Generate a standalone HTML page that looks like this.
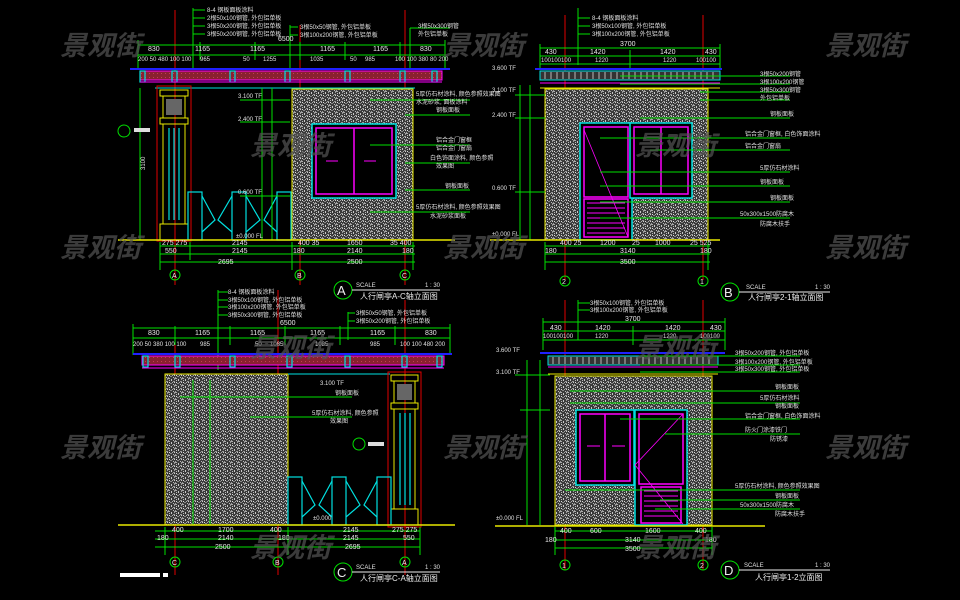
<!DOCTYPE html>
<html><head><meta charset="utf-8"><style>
html,body{margin:0;padding:0;background:#000;}
svg{display:block}
text{font-family:"Liberation Sans","Noto Sans CJK SC",sans-serif;}
.g{stroke:#00e000;stroke-width:1;fill:none}
.t{fill:#e8e8e8;font-size:7px}
.gt{fill:#e0e0e0;font-size:6px}
.wm{fill:#555;font-size:27px;font-weight:bold;font-style:italic;font-family:"Noto Sans CJK SC",sans-serif;opacity:.7}
.red{stroke:#e00000;stroke-width:1}
.cy{stroke:#00e0e0;fill:none;stroke-width:1.2}
.mg{stroke:#ff00ff;fill:none;stroke-width:1.5}
.yl{stroke:#e8e800;fill:none;stroke-width:1}
.circ{stroke:#00e000;fill:none;stroke-width:1}
</style></head><body>
<svg width="960" height="600" viewBox="0 0 960 600" xmlns="http://www.w3.org/2000/svg">
<defs>
<pattern id="st" width="7" height="7" patternUnits="userSpaceOnUse">
<rect width="7" height="7" fill="#3a3a3a"/>
<rect x="0" y="0" width="2" height="1" fill="#aaa"/>
<rect x="3" y="1" width="1" height="2" fill="#c8c8c8"/>
<rect x="5" y="3" width="2" height="1" fill="#999"/>
<rect x="1" y="4" width="1" height="1" fill="#ddd"/>
<rect x="2" y="5" width="2" height="1" fill="#888"/>
<rect x="5" y="6" width="1" height="1" fill="#bbb"/>
<rect x="4" y="4" width="1" height="1" fill="#aaa"/>
<rect x="6" y="0" width="1" height="2" fill="#999"/>
<rect x="1" y="2" width="1" height="1" fill="#bbb"/>
<rect x="0" y="6" width="1" height="1" fill="#999"/>
<rect x="6" y="4" width="1" height="1" fill="#ccc"/>
</pattern>
<pattern id="rb" width="4" height="4" patternUnits="userSpaceOnUse">
<rect width="4" height="4" fill="#8a2030"/><rect x="1" y="1" width="1" height="1" fill="#c04050"/>
</pattern>
</defs>
<rect width="960" height="600" fill="#000"/>

<!-- ========== PANEL A ========== -->
<g>
<line class="red" x1="175" y1="10" x2="175" y2="285"/>
<line class="red" x1="300" y1="25" x2="300" y2="285"/>
<line class="red" x1="405" y1="10" x2="405" y2="285"/>
<g class="g"><line x1="193" y1="8" x2="193" y2="70"/><line x1="193" y1="10" x2="205" y2="10"/><line x1="193" y1="18" x2="205" y2="18"/><line x1="193" y1="26" x2="205" y2="26"/><line x1="193" y1="34" x2="205" y2="34"/>
<line x1="290" y1="25" x2="290" y2="70"/><line x1="290" y1="27" x2="298" y2="27"/><line x1="290" y1="35" x2="298" y2="35"/>
<line x1="410" y1="28" x2="410" y2="70"/><line x1="410" y1="28" x2="450" y2="28"/></g>
<text class="gt" x="207" y="12">8-4 钢板面板涂料</text>
<text class="gt" x="207" y="20">2根50x100钢管, 外包铝单板</text>
<text class="gt" x="207" y="28">3根50x200钢管, 外包铝单板</text>
<text class="gt" x="207" y="36">3根50x200钢管, 外包铝单板</text>
<text class="gt" x="300" y="29">3根50x50钢管, 外包铝单板</text>
<text class="gt" x="300" y="37">3根100x200钢管, 外包铝单板</text>
<text class="gt" x="418" y="28">3根50x300钢管</text>
<text class="gt" x="418" y="36">外包铝单板</text>
<g class="g"><line x1="138" y1="45" x2="445" y2="45"/><line x1="138" y1="55" x2="445" y2="55"/>
<line x1="138" y1="40" x2="138" y2="70"/><line x1="200" y1="42" x2="200" y2="60"/><line x1="255" y1="42" x2="255" y2="60"/><line x1="300" y1="42" x2="300" y2="60"/><line x1="345" y1="42" x2="345" y2="60"/><line x1="400" y1="42" x2="400" y2="60"/><line x1="445" y1="40" x2="445" y2="70"/></g>
<text class="t" x="148" y="51">830</text><text class="t" x="195" y="51">1165</text><text class="t" x="250" y="51">1165</text><text class="t" x="320" y="51">1165</text><text class="t" x="373" y="51">1165</text><text class="t" x="420" y="51">830</text>
<text class="t" x="278" y="41">6500</text>
<text class="gt" x="138" y="61">200 50 480 100 100</text><text class="gt" x="200" y="61">965</text><text class="gt" x="243" y="61">50</text><text class="gt" x="263" y="61">1255</text><text class="gt" x="310" y="61">1035</text><text class="gt" x="350" y="61">50</text><text class="gt" x="365" y="61">985</text><text class="gt" x="395" y="61">100 100 380 80 200</text>
<line x1="130" y1="69" x2="450" y2="69" stroke="#2020ff" stroke-width="2"/>
<rect x="140" y="71" width="302" height="9" fill="url(#rb)" stroke="#ff00ff" stroke-width="1"/>
<g class="cy"><rect x="140" y="71" width="5" height="11"/><rect x="172" y="71" width="5" height="11"/><rect x="230" y="71" width="5" height="11"/><rect x="285" y="71" width="5" height="11"/><rect x="345" y="71" width="5" height="11"/><rect x="400" y="71" width="5" height="11"/><rect x="432" y="71" width="5" height="11"/></g>
<line x1="140" y1="82" x2="442" y2="82" stroke="#ff00ff"/>
<line x1="155" y1="88" x2="415" y2="88" stroke="#00e0e0"/>
<rect x="157" y="86" width="34" height="155" fill="none" stroke="#e00000"/>
<g class="yl"><rect x="160" y="90" width="28" height="6"/><rect x="163" y="96" width="22" height="22"/><rect x="160" y="118" width="28" height="6"/><rect x="163" y="124" width="22" height="100"/><rect x="160" y="224" width="28" height="16"/></g>
<rect x="166" y="99" width="16" height="16" fill="#666"/>
<g stroke="#00e0e0" stroke-width="1.2"><line x1="169" y1="128" x2="169" y2="220"/><line x1="174" y1="128" x2="174" y2="220"/><line x1="179" y1="128" x2="179" y2="220"/></g>
<g class="cy" stroke-width="1"><rect x="188" y="192" width="14" height="48"/><rect x="232" y="192" width="14" height="48"/><rect x="277" y="192" width="14" height="48"/><path d="M202 196 L215 220 L202 232 M232 196 L218 220 L232 232 M246 196 L260 220 L246 232 M277 196 L264 220 L277 232"/></g>
<rect x="292" y="89" width="121" height="151" fill="url(#st)" stroke="#e8e800"/>
<rect x="312" y="124" width="84" height="74" fill="#000" stroke="#00e0e0" stroke-width="1.5"/>
<rect x="316" y="128" width="76" height="66" class="mg"/>
<line x1="354" y1="128" x2="354" y2="194" stroke="#ff00ff" stroke-width="1.5"/>
<line x1="326" y1="161" x2="338" y2="161" stroke="#ff00ff"/><line x1="364" y1="161" x2="376" y2="161" stroke="#ff00ff"/>
<g class="g"><line x1="370" y1="100" x2="470" y2="100"/><line x1="405" y1="115" x2="470" y2="115"/><line x1="370" y1="145" x2="470" y2="145"/><line x1="405" y1="163" x2="470" y2="163"/><line x1="405" y1="190" x2="470" y2="190"/><line x1="370" y1="212" x2="470" y2="212"/></g>
<text class="gt" x="416" y="96">5厚仿石材涂料, 颜色参照效果图</text><text class="gt" x="416" y="104">水泥砂浆, 面板涂料</text><text class="gt" x="436" y="112">钢板面板</text>
<text class="gt" x="436" y="142">铝合金门窗框</text><text class="gt" x="436" y="150">铝合金门窗扇</text>
<text class="gt" x="430" y="160">白色饰面涂料, 颜色参照</text><text class="gt" x="436" y="168">效果图</text>
<text class="gt" x="445" y="188">钢板面板</text>
<text class="gt" x="416" y="209">5厚仿石材涂料, 颜色参照效果图</text><text class="gt" x="430" y="218">水泥砂浆面板</text>
<g class="g"><line x1="262" y1="88" x2="262" y2="240"/><line x1="272" y1="88" x2="272" y2="240"/><line x1="140" y1="88" x2="140" y2="240"/><line x1="240" y1="100" x2="290" y2="100"/><line x1="240" y1="122" x2="290" y2="122"/><line x1="240" y1="196" x2="290" y2="196"/></g>
<text class="gt" x="238" y="98">3.100 TF</text><text class="gt" x="238" y="121">2.400 TF</text><text class="gt" x="238" y="194">0.600 TF</text><text class="gt" x="236" y="238">±0.000 FL</text>
<text class="gt" x="145" y="170" transform="rotate(-90 145 170)">3100</text>
<circle class="circ" cx="124" cy="131" r="6"/><rect x="134" y="128" width="16" height="4" fill="#ddd"/>
<line x1="118" y1="240" x2="455" y2="240" stroke="#e8e800" stroke-width="1.5"/>
<g class="g"><line x1="160" y1="246" x2="415" y2="246"/><line x1="160" y1="254" x2="415" y2="254"/><line x1="160" y1="262" x2="415" y2="262"/><line x1="160" y1="242" x2="160" y2="270"/><line x1="190" y1="242" x2="190" y2="260"/><line x1="292" y1="242" x2="292" y2="270"/><line x1="413" y1="242" x2="413" y2="270"/></g>
<text class="t" x="162" y="245">275 275</text><text class="t" x="232" y="245">2145</text><text class="t" x="298" y="245">400 35</text><text class="t" x="347" y="245">1650</text><text class="t" x="390" y="245">35 400</text>
<text class="t" x="165" y="253">550</text><text class="t" x="232" y="253">2145</text><text class="t" x="293" y="253">180</text><text class="t" x="347" y="253">2140</text><text class="t" x="402" y="253">180</text>
<text class="t" x="218" y="264">2695</text><text class="t" x="347" y="264">2500</text>
<circle class="circ" cx="175" cy="275" r="5"/><text class="t" x="172" y="278">A</text>
<circle class="circ" cx="300" cy="275" r="5"/><text class="t" x="297" y="278">B</text>
<circle class="circ" cx="405" cy="275" r="5"/><text class="t" x="402" y="278">C</text>
<circle class="circ" cx="343" cy="290" r="9"/><text x="337" y="295" fill="#eee" font-size="13">A</text>
<line x1="352" y1="290" x2="440" y2="290" stroke="#eee"/>
<text class="gt" x="356" y="287">SCALE</text><text class="gt" x="425" y="287">1 : 30</text>
<text x="360" y="299" fill="#eee" font-size="8">人行闸亭A-C轴立面图</text>
</g>

<!-- ========== PANEL B ========== -->
<g>
<line class="red" x1="565" y1="15" x2="565" y2="280"/>
<line class="red" x1="703" y1="15" x2="703" y2="280"/>
<g class="g"><line x1="578" y1="8" x2="578" y2="65"/><line x1="578" y1="18" x2="590" y2="18"/><line x1="578" y1="26" x2="590" y2="26"/><line x1="578" y1="34" x2="590" y2="34"/></g>
<text class="gt" x="592" y="20">8-4 钢板面板涂料</text><text class="gt" x="592" y="28">3根50x100钢管, 外包铝单板</text><text class="gt" x="592" y="36">3根100x200钢管, 外包铝单板</text>
<g class="g"><line x1="540" y1="48" x2="720" y2="48"/><line x1="540" y1="56" x2="720" y2="56"/><line x1="540" y1="64" x2="720" y2="64"/><line x1="540" y1="44" x2="540" y2="70"/><line x1="720" y1="44" x2="720" y2="70"/><line x1="630" y1="50" x2="630" y2="68"/></g>
<text class="t" x="620" y="46">3700</text><text class="t" x="545" y="54">430</text><text class="t" x="590" y="54">1420</text><text class="t" x="660" y="54">1420</text><text class="t" x="705" y="54">430</text>
<text class="gt" x="541" y="62">100100100</text><text class="gt" x="595" y="62">1220</text><text class="gt" x="663" y="62">1220</text><text class="gt" x="696" y="62">100100</text>
<line x1="535" y1="69" x2="722" y2="69" stroke="#2020ff" stroke-width="2"/>
<rect x="540" y="71" width="180" height="9" fill="#333" stroke="#00e0e0"/>
<g stroke="#bbb" stroke-width="1"><path d="M545 72v7M551 72v7M557 72v7M563 72v7M569 72v7M575 72v7M581 72v7M587 72v7M593 72v7M599 72v7M605 72v7M611 72v7M617 72v7M623 72v7M629 72v7M635 72v7M641 72v7M647 72v7M653 72v7M659 72v7M665 72v7M671 72v7M677 72v7M683 72v7M689 72v7M695 72v7M701 72v7M707 72v7M713 72v7"/></g>
<line x1="540" y1="83" x2="720" y2="83" stroke="#ff00ff"/>
<line x1="540" y1="88" x2="720" y2="88" stroke="#e8e800"/>
<rect x="545" y="89" width="163" height="151" fill="url(#st)" stroke="#e8e800"/>
<rect x="580" y="123" width="52" height="117" fill="#000" stroke="#00e0e0" stroke-width="1.5"/>
<rect x="584" y="127" width="44" height="70" class="mg"/>
<rect x="584" y="199" width="44" height="38" class="mg"/>
<g stroke="#ff00ff"><path d="M587 203h38M587 208h38M587 213h38M587 218h38M587 223h38M587 228h38M587 233h38"/></g>
<line x1="584" y1="130" x2="628" y2="237" stroke="#ff00ff" stroke-width=".8"/>
<rect x="630" y="123" width="62" height="75" fill="#000" stroke="#00e0e0" stroke-width="1.5"/>
<rect x="634" y="127" width="54" height="67" class="mg"/>
<line x1="661" y1="127" x2="661" y2="194" stroke="#ff00ff" stroke-width="1.5"/>
<g class="g"><line x1="620" y1="76" x2="790" y2="76"/><line x1="620" y1="84" x2="790" y2="84"/><line x1="700" y1="92" x2="790" y2="92"/><line x1="700" y1="100" x2="790" y2="100"/><line x1="640" y1="118" x2="790" y2="118"/><line x1="600" y1="138" x2="790" y2="138"/><line x1="650" y1="150" x2="790" y2="150"/><line x1="600" y1="172" x2="790" y2="172"/><line x1="600" y1="186" x2="790" y2="186"/><line x1="600" y1="202" x2="790" y2="202"/><line x1="600" y1="218" x2="790" y2="218"/></g>
<text class="gt" x="760" y="76">3根50x200钢管</text><text class="gt" x="760" y="84">3根100x200钢管</text><text class="gt" x="760" y="92">3根50x300钢管</text><text class="gt" x="760" y="100">外包铝单板</text>
<text class="gt" x="770" y="116">钢板面板</text><text class="gt" x="745" y="136">铝合金门窗框, 白色饰面涂料</text><text class="gt" x="745" y="148">铝合金门窗扇</text><text class="gt" x="760" y="170">5厚仿石材涂料</text><text class="gt" x="760" y="184">钢板面板</text><text class="gt" x="770" y="200">钢板面板</text><text class="gt" x="740" y="216">50x300x1500防腐木</text><text class="gt" x="760" y="226">防腐木扶手</text>
<g class="g"><line x1="520" y1="240" x2="520" y2="85"/><line x1="530" y1="240" x2="530" y2="85"/><line x1="515" y1="95" x2="545" y2="95"/><line x1="515" y1="118" x2="545" y2="118"/><line x1="515" y1="192" x2="545" y2="192"/></g>
<text class="gt" x="492" y="70">3.600 TF</text><text class="gt" x="492" y="92">3.100 TF</text><text class="gt" x="492" y="117">2.400 TF</text><text class="gt" x="492" y="190">0.600 TF</text><text class="gt" x="492" y="236">±0.000 FL</text>
<line x1="490" y1="240" x2="720" y2="240" stroke="#e8e800" stroke-width="1.5"/>
<g class="g"><line x1="545" y1="246" x2="710" y2="246"/><line x1="545" y1="254" x2="710" y2="254"/><line x1="545" y1="262" x2="710" y2="262"/><line x1="545" y1="242" x2="545" y2="270"/><line x1="708" y1="242" x2="708" y2="270"/></g>
<text class="t" x="560" y="245">400 25</text><text class="t" x="600" y="245">1200</text><text class="t" x="632" y="245">25</text><text class="t" x="655" y="245">1000</text><text class="t" x="690" y="245">25 525</text>
<text class="t" x="545" y="253">180</text><text class="t" x="620" y="253">3140</text><text class="t" x="700" y="253">180</text><text class="t" x="620" y="264">3500</text>
<circle class="circ" cx="565" cy="281" r="5"/><text class="t" x="562" y="284">2</text>
<circle class="circ" cx="703" cy="281" r="5"/><text class="t" x="700" y="284">1</text>
<circle class="circ" cx="730" cy="292" r="9"/><text x="724" y="297" fill="#eee" font-size="13">B</text>
<line x1="739" y1="292" x2="830" y2="292" stroke="#eee"/>
<text class="gt" x="746" y="289">SCALE</text><text class="gt" x="815" y="289">1 : 30</text>
<text x="748" y="300" fill="#eee" font-size="8">人行闸亭2-1轴立面图</text>
</g>

<!-- ========== PANEL C ========== -->
<g>
<line class="red" x1="175" y1="335" x2="175" y2="575"/>
<line class="red" x1="278" y1="290" x2="278" y2="575"/>
<line class="red" x1="405" y1="300" x2="405" y2="575"/>
<g class="g"><line x1="218" y1="290" x2="218" y2="370"/><line x1="218" y1="292" x2="228" y2="292"/><line x1="218" y1="300" x2="228" y2="300"/><line x1="218" y1="307" x2="228" y2="307"/><line x1="218" y1="315" x2="228" y2="315"/><line x1="348" y1="312" x2="348" y2="340"/><line x1="348" y1="313" x2="355" y2="313"/><line x1="348" y1="321" x2="355" y2="321"/></g>
<text class="gt" x="228" y="294">8-4 钢板面板涂料</text><text class="gt" x="228" y="302">3根50x100钢管, 外包铝单板</text><text class="gt" x="228" y="309">3根100x200钢管, 外包铝单板</text><text class="gt" x="228" y="317">3根50x300钢管, 外包铝单板</text>
<text class="gt" x="356" y="315">3根50x50钢管, 外包铝单板</text><text class="gt" x="356" y="323">3根50x200钢管, 外包铝单板</text>
<g class="g"><line x1="133" y1="328" x2="450" y2="328"/><line x1="133" y1="338" x2="450" y2="338"/><line x1="133" y1="324" x2="133" y2="355"/><line x1="450" y1="324" x2="450" y2="355"/><line x1="175" y1="326" x2="175" y2="345"/><line x1="230" y1="326" x2="230" y2="345"/><line x1="285" y1="326" x2="285" y2="345"/><line x1="340" y1="326" x2="340" y2="345"/><line x1="395" y1="326" x2="395" y2="345"/></g>
<text class="t" x="280" y="325">6500</text><text class="t" x="148" y="335">830</text><text class="t" x="195" y="335">1165</text><text class="t" x="250" y="335">1165</text><text class="t" x="310" y="335">1165</text><text class="t" x="370" y="335">1165</text><text class="t" x="425" y="335">830</text>
<text class="gt" x="133" y="346">200 50 380 100 100</text><text class="gt" x="200" y="346">985</text><text class="gt" x="255" y="346">50</text><text class="gt" x="270" y="346">1085</text><text class="gt" x="315" y="346">1085</text><text class="gt" x="370" y="346">985</text><text class="gt" x="400" y="346">100 100 480 200</text>
<line x1="133" y1="354" x2="452" y2="354" stroke="#2020ff" stroke-width="2"/>
<rect x="142" y="356" width="302" height="9" fill="url(#rb)" stroke="#ff00ff"/>
<g class="cy"><rect x="143" y="356" width="5" height="11"/><rect x="175" y="356" width="5" height="11"/><rect x="230" y="356" width="5" height="11"/><rect x="287" y="356" width="5" height="11"/><rect x="345" y="356" width="5" height="11"/><rect x="402" y="356" width="5" height="11"/><rect x="437" y="356" width="5" height="11"/></g>
<line x1="142" y1="368" x2="444" y2="368" stroke="#ff00ff"/>
<rect x="165" y="374" width="123" height="151" fill="url(#st)" stroke="#e8e800"/>
<line x1="288" y1="374" x2="390" y2="374" stroke="#00e0e0"/>
<rect x="388" y="372" width="33" height="155" fill="none" stroke="#e00000"/>
<g class="yl"><rect x="391" y="375" width="27" height="6"/><rect x="394" y="381" width="21" height="22"/><rect x="391" y="403" width="27" height="6"/><rect x="394" y="409" width="21" height="100"/><rect x="391" y="509" width="27" height="16"/></g>
<rect x="397" y="384" width="15" height="16" fill="#666"/>
<g stroke="#00e0e0" stroke-width="1.2"><line x1="400" y1="413" x2="400" y2="505"/><line x1="405" y1="413" x2="405" y2="505"/><line x1="410" y1="413" x2="410" y2="505"/></g>
<g class="cy" stroke-width="1"><rect x="288" y="477" width="14" height="48"/><rect x="332" y="477" width="14" height="48"/><rect x="377" y="477" width="14" height="48"/><path d="M302 481 L315 505 L302 517 M332 481 L319 505 L332 517 M346 481 L360 505 L346 517 M377 481 L364 505 L377 517"/></g>
<g class="g"><line x1="193" y1="380" x2="193" y2="525"/><line x1="210" y1="380" x2="210" y2="525"/><line x1="180" y1="397" x2="352" y2="397"/><line x1="250" y1="417" x2="352" y2="417"/></g>
<text class="gt" x="320" y="385">3.100 TF</text><text class="gt" x="335" y="395">钢板面板</text><text class="gt" x="312" y="415">5厚仿石材涂料, 颜色参照</text><text class="gt" x="330" y="423">效果图</text>
<text class="gt" x="313" y="520">±0.000</text>
<circle class="circ" cx="359" cy="444" r="6"/><rect x="368" y="442" width="16" height="4" fill="#ddd"/>
<line x1="118" y1="525" x2="455" y2="525" stroke="#e8e800" stroke-width="1.5"/>
<g class="g"><line x1="155" y1="531" x2="420" y2="531"/><line x1="155" y1="539" x2="420" y2="539"/><line x1="155" y1="547" x2="420" y2="547"/><line x1="165" y1="527" x2="165" y2="555"/><line x1="288" y1="527" x2="288" y2="555"/><line x1="420" y1="527" x2="420" y2="555"/></g>
<text class="t" x="172" y="532">400</text><text class="t" x="218" y="532">1700</text><text class="t" x="270" y="532">400</text><text class="t" x="343" y="532">2145</text><text class="t" x="392" y="532">275 275</text>
<text class="t" x="157" y="540">180</text><text class="t" x="218" y="540">2140</text><text class="t" x="278" y="540">180</text><text class="t" x="343" y="540">2145</text><text class="t" x="403" y="540">550</text>
<text class="t" x="215" y="549">2500</text><text class="t" x="345" y="549">2695</text>
<circle class="circ" cx="175" cy="562" r="5"/><text class="t" x="172" y="565">C</text>
<circle class="circ" cx="278" cy="562" r="5"/><text class="t" x="275" y="565">B</text>
<circle class="circ" cx="405" cy="562" r="5"/><text class="t" x="402" y="565">A</text>
<circle class="circ" cx="343" cy="572" r="9"/><text x="337" y="577" fill="#eee" font-size="13">C</text>
<line x1="352" y1="572" x2="440" y2="572" stroke="#eee"/>
<text class="gt" x="356" y="569">SCALE</text><text class="gt" x="425" y="569">1 : 30</text>
<text x="360" y="581" fill="#eee" font-size="8">人行闸亭C-A轴立面图</text>
<rect x="120" y="573" width="40" height="4" fill="#fff"/><rect x="163" y="573" width="5" height="4" fill="#fff"/>
</g>

<!-- ========== PANEL D ========== -->
<g>
<line class="red" x1="565" y1="300" x2="565" y2="570"/>
<line class="red" x1="703" y1="300" x2="703" y2="570"/>
<g class="g"><line x1="578" y1="300" x2="578" y2="340"/><line x1="578" y1="303" x2="590" y2="303"/><line x1="578" y1="310" x2="590" y2="310"/></g>
<text class="gt" x="590" y="305">3根50x100钢管, 外包铝单板</text><text class="gt" x="590" y="312">3根100x200钢管, 外包铝单板</text>
<g class="g"><line x1="543" y1="322" x2="725" y2="322"/><line x1="543" y1="331" x2="725" y2="331"/><line x1="543" y1="340" x2="725" y2="340"/><line x1="543" y1="318" x2="543" y2="350"/><line x1="725" y1="318" x2="725" y2="350"/><line x1="633" y1="326" x2="633" y2="345"/></g>
<text class="t" x="625" y="321">3700</text><text class="t" x="550" y="330">430</text><text class="t" x="595" y="330">1420</text><text class="t" x="665" y="330">1420</text><text class="t" x="710" y="330">430</text>
<text class="gt" x="543" y="338">100100100</text><text class="gt" x="595" y="338">1220</text><text class="gt" x="663" y="338">1220</text><text class="gt" x="700" y="338">100100</text>
<line x1="540" y1="353" x2="725" y2="353" stroke="#2020ff" stroke-width="2"/>
<rect x="548" y="356" width="170" height="9" fill="#333" stroke="#00e0e0"/>
<g stroke="#bbb"><path d="M553 357v7M559 357v7M565 357v7M571 357v7M577 357v7M583 357v7M589 357v7M595 357v7M601 357v7M607 357v7M613 357v7M619 357v7M625 357v7M631 357v7M637 357v7M643 357v7M649 357v7M655 357v7M661 357v7M667 357v7M673 357v7M679 357v7M685 357v7M691 357v7M697 357v7M703 357v7M709 357v7"/></g>
<line x1="548" y1="367" x2="718" y2="367" stroke="#ff00ff"/>
<line x1="548" y1="374" x2="718" y2="374" stroke="#e8e800"/>
<rect x="555" y="376" width="157" height="149" fill="url(#st)" stroke="#e8e800"/>
<rect x="576" y="410" width="58" height="75" fill="#000" stroke="#00e0e0" stroke-width="1.5"/>
<rect x="580" y="414" width="50" height="67" class="mg"/>
<line x1="605" y1="414" x2="605" y2="481" stroke="#ff00ff" stroke-width="1.5"/>
<line x1="587" y1="446" x2="600" y2="446" stroke="#ff00ff"/><line x1="612" y1="446" x2="625" y2="446" stroke="#ff00ff"/>
<rect x="635" y="410" width="52" height="115" fill="#000" stroke="#00e0e0" stroke-width="1.5"/>
<rect x="639" y="414" width="44" height="70" class="mg"/>
<rect x="641" y="487" width="40" height="36" class="mg"/>
<g stroke="#ff00ff"><path d="M644 491h34M644 496h34M644 501h34M644 506h34M644 511h34M644 516h34"/></g>
<line x1="683" y1="414" x2="635" y2="465" stroke="#ff00ff" stroke-width=".8"/>
<line x1="635" y1="465" x2="683" y2="524" stroke="#ff00ff" stroke-width=".8"/>
<g class="g"><line x1="640" y1="356" x2="800" y2="356"/><line x1="640" y1="365" x2="800" y2="365"/><line x1="640" y1="372" x2="800" y2="372"/><line x1="570" y1="391" x2="800" y2="391"/><line x1="570" y1="403" x2="800" y2="403"/><line x1="620" y1="419" x2="800" y2="419"/><line x1="665" y1="434" x2="800" y2="434"/><line x1="565" y1="490" x2="800" y2="490"/><line x1="660" y1="500" x2="800" y2="500"/><line x1="655" y1="509" x2="800" y2="509"/></g>
<text class="gt" x="735" y="355">3根50x200钢管, 外包铝单板</text><text class="gt" x="735" y="364">3根100x200钢管, 外包铝单板</text><text class="gt" x="735" y="371">3根50x300钢管, 外包铝单板</text>
<text class="gt" x="775" y="389">钢板面板</text><text class="gt" x="760" y="400">5厚仿石材涂料</text><text class="gt" x="775" y="408">钢板面板</text>
<text class="gt" x="745" y="418">铝合金门窗框, 白色饰面涂料</text><text class="gt" x="745" y="432">防火门涂漆铁门</text><text class="gt" x="770" y="441">防锈漆</text>
<text class="gt" x="735" y="488">5厚仿石材涂料, 颜色参照效果图</text><text class="gt" x="775" y="498">钢板面板</text><text class="gt" x="740" y="507">50x300x1500防腐木</text><text class="gt" x="775" y="516">防腐木扶手</text>
<g class="g"><line x1="527" y1="360" x2="527" y2="525"/><line x1="540" y1="360" x2="540" y2="525"/><line x1="515" y1="375" x2="550" y2="375"/><line x1="520" y1="410" x2="550" y2="410"/></g>
<text class="gt" x="496" y="352">3.600 TF</text><text class="gt" x="496" y="374">3.100 TF</text><text class="gt" x="496" y="520">±0.000 FL</text>
<line x1="495" y1="526" x2="765" y2="526" stroke="#e8e800" stroke-width="1.5"/>
<g class="g"><line x1="555" y1="531" x2="712" y2="531"/><line x1="555" y1="540" x2="712" y2="540"/><line x1="555" y1="548" x2="712" y2="548"/><line x1="555" y1="527" x2="555" y2="555"/><line x1="712" y1="527" x2="712" y2="555"/></g>
<text class="t" x="560" y="533">400</text><text class="t" x="590" y="533">600</text><text class="t" x="645" y="533">1600</text><text class="t" x="695" y="533">400</text>
<text class="t" x="545" y="542">180</text><text class="t" x="625" y="542">3140</text><text class="t" x="705" y="542">180</text><text class="t" x="625" y="551">3500</text>
<circle class="circ" cx="565" cy="565" r="5"/><text class="t" x="562" y="568">1</text>
<circle class="circ" cx="703" cy="565" r="5"/><text class="t" x="700" y="568">2</text>
<circle class="circ" cx="730" cy="570" r="9"/><text x="724" y="575" fill="#eee" font-size="13">D</text>
<line x1="739" y1="570" x2="830" y2="570" stroke="#eee"/>
<text class="gt" x="744" y="567">SCALE</text><text class="gt" x="815" y="567">1 : 30</text>
<text x="755" y="580" fill="#eee" font-size="8">人行闸亭1-2立面图</text>
</g>

<!-- watermarks -->
<text class="wm" x="60" y="55">景观街</text><text class="wm" x="443" y="55">景观街</text><text class="wm" x="825" y="55">景观街</text>
<text class="wm" x="60" y="257">景观街</text><text class="wm" x="443" y="257">景观街</text><text class="wm" x="825" y="257">景观街</text>
<text class="wm" x="60" y="457">景观街</text><text class="wm" x="443" y="457">景观街</text><text class="wm" x="825" y="457">景观街</text>
<text class="wm" x="250" y="155">景观街</text><text class="wm" x="635" y="155">景观街</text>
<text class="wm" x="250" y="357">景观街</text><text class="wm" x="635" y="357">景观街</text>
<text class="wm" x="250" y="557">景观街</text><text class="wm" x="635" y="557">景观街</text>
</svg>
</body></html>
